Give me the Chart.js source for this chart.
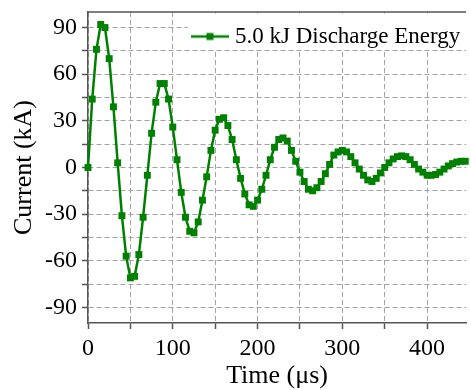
<!DOCTYPE html>
<html>
<head>
<meta charset="utf-8">
<script src="https://cdn.jsdelivr.net/npm/chart.js@4"></script>
<style>
html,body{margin:0;padding:0;background:#fff;}
#wrap{width:471px;height:390px;}
</style>
</head>
<body>
<div id="wrap"><canvas id="c" width="471" height="390"></canvas></div>
<script>
// ---- data ----
const seriesLabel = '5.0 kJ Discharge Energy';
const times = [0,5,10,15,20,25,30,35,40,45,50,55,60,65,70,75,80,85,90,95,
  100,105,110,115,120,125,130,135,140,145,150,155,160,165,170,175,180,185,190,195,
  200,205,210,215,220,225,230,235,240,245,250,255,260,265,270,275,280,285,290,295,
  300,305,310,315,320,325,330,335,340,345,350,355,360,365,370,375,380,385,390,395,
  400,405,410,415,420,425,430,435,440,445];
const current = [0,44,76,92,90,70,39,3,-31,-57,-71,-70,-56,-32,-5,22,42,54,54,44,
  26,5,-16,-32,-41,-42,-35,-21,-6,11,24,31,32,27,18,5,-7,-17,-24,-25,
  -21,-14,-5,5,13,18,19,17,11,4,-3,-9,-14,-15,-13,-9,-4,2,8,10,
  11,10,7,3,-1,-5,-8,-9,-7,-3.5,0,3,5.5,7,7.5,7,5,2,-1,-3,
  -5,-5,-4.5,-3,-1,1,2.5,3.5,4,4];
const xGridValues = [0,50,100,150,200,250,300,350,400];
const xLabelValues = [0,100,200,300,400];
const yGridValues = [-90,-75,-60,-45,-30,-15,0,15,30,45,60,75,90];
const yLabelValues = [-90,-60,-30,0,30,60,90];
const xTitle = 'Time (\u03BCs)';
const yTitle = 'Current (kA)';

// ---- styles ----
const green = '#008000';
const serif = 'Liberation Serif, Times New Roman, serif';
const axisColor = '#555';
const gridColor = '#a3a3a3';

// legend icon: line with square marker
const icon = document.createElement('canvas');
icon.width = 38; icon.height = 12;
(function(){
  const c = icon.getContext('2d');
  c.strokeStyle = green; c.lineWidth = 2.5;
  c.beginPath(); c.moveTo(0, 6); c.lineTo(38, 6); c.stroke();
  c.fillStyle = green; c.fillRect(19 - 3.5, 6 - 3.5, 7, 7);
})();

const legendPlace = {
  id: 'legendPlace',
  afterLayout(chart) {
    const lg = chart.legend;
    if (!lg) return;
    const w = lg.width, h = lg.height;
    lg.left = chart.chartArea.left + 98.5;
    lg.top = chart.chartArea.top + 3;
    lg.right = lg.left + w;
    lg.bottom = lg.top + h;
  },
  afterDraw(chart) {
    const ctx = chart.ctx, a = chart.chartArea;
    ctx.save();
    // top frame line
    ctx.strokeStyle = axisColor; ctx.lineWidth = 1.5;
    ctx.beginPath(); ctx.moveTo(a.left, a.top); ctx.lineTo(a.right, a.top); ctx.stroke();
    // legend background
    ctx.fillStyle = '#fff';
    ctx.fillRect(a.left + 100, a.top + 1.5, a.right - a.left - 100, 35.5);
    ctx.restore();
    chart.legend.draw();
  }
};

const noPad = s => { s.paddingTop = 0; s.paddingBottom = 0; s.paddingLeft = 0; s.paddingRight = 0; };

new Chart(document.getElementById('c').getContext('2d'), {
  type: 'line',
  data: {
    datasets: [{
      label: seriesLabel,
      data: times.map((t, i) => ({x: t, y: current[i]})),
      borderColor: green,
      backgroundColor: green,
      borderWidth: 2.5,
      pointStyle: 'rect',
      pointRadius: 4.9,
      pointBorderWidth: 0,
      pointBackgroundColor: green,
      tension: 0,
      clip: false
    }]
  },
  options: {
    responsive: false,
    animation: false,
    devicePixelRatio: 1,
    layout: {padding: {top: 12, right: 0, left: 0, bottom: 0}},
    scales: {
      x: {
        type: 'linear', min: 0, max: 446,
        afterBuildTicks: s => { s.ticks = xGridValues.map(v => ({value: v})); },
        afterFit: s => { s.height = 67; noPad(s); },
        ticks: {
          callback: v => xLabelValues.includes(v) ? String(v) : '',
          font: {family: serif, size: 24}, color: '#000', padding: 5,
          maxRotation: 0, autoSkip: false
        },
        grid: {color: gridColor, lineWidth: 1, tickLength: 6, tickColor: axisColor, tickWidth: 1.5},
        border: {display: true, color: axisColor, width: 1.5, dash: [5, 3]},
        title: {display: true, text: xTitle, font: {family: serif, size: 26, lineHeight: 1}, color: '#000', padding: {top: 0, bottom: 1}}
      },
      y: {
        type: 'linear', min: -100, max: 100,
        afterBuildTicks: s => { s.ticks = yGridValues.map(v => ({value: v})); },
        afterFit: s => { s.width = 88; noPad(s); },
        ticks: {
          callback: v => yLabelValues.includes(v) ? String(v) : '',
          font: {family: serif, size: 24}, color: '#000', padding: 5, autoSkip: false
        },
        grid: {color: gridColor, lineWidth: 1, tickLength: 6, tickColor: axisColor, tickWidth: 1.5},
        border: {display: true, color: axisColor, width: 1.5, dash: [5, 3]},
        title: {display: true, text: yTitle, font: {family: serif, size: 26, lineHeight: 1}, color: '#000', padding: {top: 11, bottom: 0}}
      }
    },
    plugins: {
      legend: {
        display: true, position: 'chartArea', align: 'start',
        labels: {
          usePointStyle: true, pointStyle: icon, pointStyleWidth: 27,
          font: {family: serif, size: 23}, color: '#000', padding: 10
        }
      },
      tooltip: {enabled: false}
    }
  },
  plugins: [legendPlace]
});
</script>
</body>
</html>
